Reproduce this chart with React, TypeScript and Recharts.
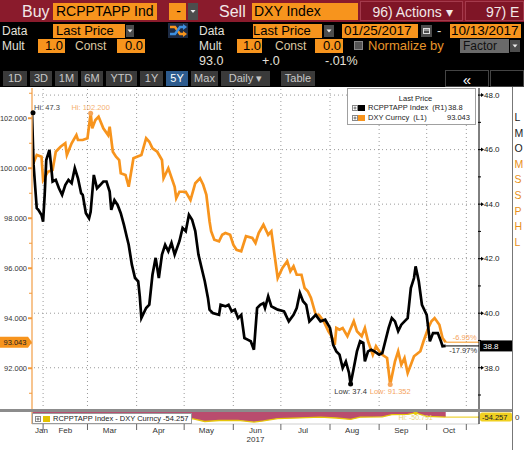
import React from "react";
import { LineChart, Line, XAxis, YAxis, ReferenceLine, ReferenceDot, AreaChart, Area } from "recharts";

const FONT = "'Liberation Sans', Arial, sans-serif";
const ORANGE = "#f7941d";
const MAROON = "#8a1b2c";

// x values are days of 2017 (Jan 1 = 1)
const rcpDays = [
  25, 26, 28, 29, 31, 32, 33, 34, 36, 37,
  38, 40, 42, 44, 46, 48, 50, 52, 54, 56,
  57, 59, 61, 62, 64, 66, 68, 70, 72, 74,
  75, 77, 79, 81, 83, 85, 86, 88, 90, 92,
  93, 94, 97, 99, 101, 103, 105, 107, 109, 111,
  113, 115, 118, 120, 122, 124, 126, 128, 130, 132,
  134, 136, 137, 139, 143, 144, 147, 149, 151, 153,
  155, 157, 159, 161, 163, 165, 167, 169, 171, 172,
  174, 176, 178, 180, 184, 187, 190, 192, 194, 196,
  198, 200, 204, 207, 210, 213, 215, 217, 219, 221,
  223, 225, 226, 228, 230, 232, 234, 235, 237, 239,
  241, 244, 246, 250, 252, 254, 256, 258, 260, 262,
  264, 266, 267, 269, 271, 274, 276, 278, 281, 283,
  284, 286,
];
const rcpVals = [
  47.35, 45.44, 43.85, 43.79, 43.6, 43.36, 44.34, 45.62, 45.99, 45.44,
  44.83, 44.89, 44.58, 44.34, 44.7, 44.89, 44.77, 45.32, 44.95, 44.4,
  44.34, 43.67, 43.48, 43.72, 45.07, 44.58, 44.7, 44.83, 44.83, 44.46,
  43.79, 44.15, 43.97, 43.67, 43.24, 42.75, 42.51, 41.78, 41.29, 41.17,
  40.62, 39.82, 40.19, 40.31, 41.41, 42.03, 41.29, 42.15, 42.51, 42.27,
  42.58, 42.15, 42.64, 43.13, 43.01, 43.61, 43.43, 43.01, 42.15, 41.66,
  41.17, 40.56, 40.13, 40.01, 39.94, 40.31, 40.25, 40.31, 40.07, 40.13,
  39.82, 39.94, 39.09, 39.03, 38.97, 38.66, 40.19, 40.31, 40.37, 40.19,
  40.62, 40.25, 40.19, 40.13, 40.07, 39.7, 39.94, 40.19, 40.74, 40.44,
  40.31, 39.7, 39.94, 39.7, 39.76, 39.46, 38.84, 38.6, 38.48, 37.99,
  38.23, 37.81, 37.4, 37.99, 38.6, 38.97, 38.91, 38.23, 38.6, 38.66,
  38.6, 38.48, 38.54, 39.46, 39.82, 39.7, 39.34, 39.58, 39.7, 39.82,
  40.92, 41.29, 41.72, 41.17, 40.31, 39.94, 38.97, 39.27, 39.27, 38.97,
  38.79, 38.8,
];

const dxyDays = [
  25, 28, 31, 32, 35, 38, 40, 43, 46, 47,
  50, 53, 54, 57, 60, 62, 63, 65, 67, 70,
  73, 74, 76, 78, 80, 81, 84, 86, 89, 94,
  97, 99, 101, 104, 107, 108, 111, 115, 116, 118,
  122, 125, 128, 131, 133, 135, 137, 138, 140, 143,
  145, 147, 150, 152, 154, 157, 160, 164, 166, 168,
  171, 174, 176, 178, 180, 183, 186, 188, 190, 192,
  195, 197, 199, 201, 204, 206, 209, 212, 214, 216,
  217, 219, 221, 224, 228, 230, 233, 235, 237, 240,
  242, 244, 246, 249, 251, 254, 256, 258, 260, 262,
  264, 266, 270, 272, 275, 277, 279, 282, 284, 286,
];
const dxyVals = [
  100.06, 100.53, 100.46, 99.53, 99.86, 99.93, 100.66, 100.86, 101.0, 100.53,
  101.0, 101.33, 101.13, 101.13, 101.2, 102.2, 101.6, 101.93, 102.06, 101.6,
  101.33, 101.66, 100.66, 100.46, 100.33, 99.8, 99.73, 99.26, 100.4, 100.53,
  101.2, 101.06, 100.8, 100.66, 100.33, 99.6, 100.0, 99.26, 98.8, 99.06,
  99.06, 98.73, 99.4, 99.6, 99.34, 98.94, 97.88, 97.48, 97.14, 97.08,
  97.34, 97.41, 97.34, 96.94, 96.74, 96.68, 97.28, 97.21, 97.01, 97.41,
  97.74, 97.34, 97.48, 96.54, 95.61, 96.01, 96.28, 95.88, 96.08, 95.74,
  95.74, 95.21, 95.08, 94.81, 94.14, 94.14, 93.88, 93.48, 93.28, 92.94,
  93.61, 93.54, 93.61, 93.28, 93.88, 93.48, 93.28, 93.61, 93.08, 92.54,
  92.88, 92.68, 92.54, 92.41, 91.35, 92.28, 92.68, 92.14, 92.41, 91.81,
  92.14, 92.48, 92.68, 93.08, 93.61, 93.88, 94.01, 93.74, 93.21, 93.04,
];

const spreadDays = [25, 32, 36, 46, 53, 61, 64, 74, 81, 88, 94, 103, 111, 120, 126, 134, 143, 155, 165, 171, 180, 194, 207, 217, 226, 232, 246, 252, 262, 267, 274, 286];
const spreadVals = [-52.7, -56.2, -53.9, -56.3, -56.0, -58.0, -56.7, -57.2, -56.1, -58.4, -59.6, -58.7, -57.7, -55.9, -55.5, -57.9, -57.1, -56.9, -58.4, -57.4, -55.5, -54.9, -54.3, -55.0, -56.2, -54.3, -54.0, -52.2, -52.0, -50.79, -53.7, -54.26];

const monthStarts = [32, 60, 91, 121, 152, 182, 213, 244, 274, 299];
const monthMids = [31, 46, 74, 105, 135, 166, 196, 227, 258, 288];
const monthNames = ["Jan", "Feb", "Mar", "Apr", "May", "Jun", "Jul", "Aug", "Sep", "Oct"];
const leftTicks = [91, 92, 93, 94, 95, 96, 97, 98, 99, 100, 101, 102, 103];
const rightTicks = [37, 38, 39, 40, 41, 42, 43, 44, 45, 46, 47, 48];
const gridValues = [38, 40, 42, 44, 46, 48];

const X_DOMAIN: [number, number] = [25, 307];

const rcpData = rcpDays.map((d, i) => ({ day: d, v: rcpVals[i] }));
const dxyData = dxyDays.map((d, i) => ({ day: d, v: dxyVals[i] }));
const spreadData = spreadDays.map((d, i) => ({ day: d, v: spreadVals[i] }));

const LeftTick = (props: any) => {
  const { x, y, payload } = props;
  const major = payload.value % 2 === 0;
  return (
    <g>
      <line x1={x - (major ? 4 : 3)} x2={x} y1={y} y2={y} stroke="#f39a3c" strokeWidth={major ? 2 : 1} />
      {major && (
        <text x={x - 5} y={y} dy={2.7} textAnchor="end" fontSize={7.5} fill="#333" fontFamily={FONT}>
          {payload.value.toFixed(3)}
        </text>
      )}
    </g>
  );
};

const RightTick = (props: any) => {
  const { x, y, payload } = props;
  const major = payload.value % 2 === 0;
  return (
    <g>
      <line x1={x - 1} x2={x + (major ? 3 : 2)} y1={y} y2={y} stroke="#000" strokeWidth={1} />
      {major && <polygon points={`${x + 2},${y - 2} ${x + 5},${y} ${x + 2},${y + 2}`} fill="#000" />}
      {major && (
        <text x={x + 5} y={y} dy={2.8} textAnchor="start" fontSize={8} fill="#222" fontFamily={FONT}>
          {payload.value.toFixed(1)}
        </text>
      )}
    </g>
  );
};

const MonthTick = (props: any) => {
  const { x, y, payload } = props;
  const i = monthMids.indexOf(payload.value);
  return (
    <g>
      <text x={x} y={y} dy={3} textAnchor="middle" fontSize={8} fill="#333" fontFamily={FONT}>
        {monthNames[i]}
      </text>
      {monthNames[i] === "Jun" && (
        <text x={x} y={y} dy={11.5} textAnchor="middle" fontSize={8} fill="#333" fontFamily={FONT}>
          2017
        </text>
      )}
    </g>
  );
};

const MarkTick = () => <g />;

const Box = (p: {
  x: number; y: number; w: number; h: number; bg?: string; color?: string; size?: number;
  align?: "left" | "right" | "center"; pad?: number; text?: React.ReactNode; border?: string;
}) => (
  <div
    style={{
      position: "absolute", left: p.x, top: p.y, width: p.w, height: p.h, background: p.bg || "transparent",
      color: p.color || "#000", fontSize: p.size || 13, lineHeight: `${p.h}px`, textAlign: p.align || "left",
      paddingLeft: p.align === "right" ? 0 : p.pad ?? 2, paddingRight: p.align === "right" ? p.pad ?? 2 : 0,
      whiteSpace: "nowrap", overflow: "hidden", boxSizing: "border-box", fontFamily: FONT,
      border: p.border || "none",
    }}
  >
    {p.text}
  </div>
);

const Drop = ({ x, y, w, h }: { x: number; y: number; w: number; h: number }) => (
  <div style={{ position: "absolute", left: x, top: y, width: w, height: h, background: "#4d4d4d" }}>
    <svg width={w} height={h} style={{ display: "block" }}>
      <polygon points={`${w / 2 - 2.5},${h / 2 - 1.5} ${w / 2 + 2.5},${h / 2 - 1.5} ${w / 2},${h / 2 + 1.5}`} fill="#eee" />
    </svg>
  </div>
);

const PlusIcon = ({ x, y }: { x: number; y: number }) => (
  <svg width={6} height={6} style={{ position: "absolute", left: x, top: y }}>
    <rect x={0.5} y={0.5} width={5} height={5} fill="#fff" stroke="#888" strokeWidth={1} />
    <line x1={1.5} x2={4.5} y1={3} y2={3} stroke="#666" />
    <line x1={3} x2={3} y1={1.5} y2={4.5} stroke="#666" />
  </svg>
);

const buttons: [string, number, number][] = [
  ["1D", 3, 27], ["3D", 30, 52], ["1M", 55, 78], ["6M", 81, 103], ["YTD", 106, 137],
  ["1Y", 140, 163], ["5Y", 166, 188], ["Max", 191, 218], ["Daily \u25be", 221, 270], ["Table", 281, 315],
];

const sideLetters: [string, string][] = [
  ["L", "#222"], ["M", "#222"], ["O", "#222"], ["M", "#e8901a"], ["S", "#e8901a"],
  ["S", "#e8901a"], ["P", "#e8901a"], ["H", "#e8901a"], ["L", "#e8901a"],
];

const LABEL = "#e4e0da";

export default function App() {
  return (
    <div style={{ position: "absolute", left: 0, top: 0, width: 524, height: 450, background: "#000", overflow: "hidden", fontFamily: FONT }}>
      {/* row 1 */}
      <div style={{ position: "absolute", left: 0, top: 0, width: 524, height: 22, background: MAROON }} />
      <Box x={20} y={1} w={34} h={21} text="Buy" color="#f2e8e8" size={16} />
      <Box x={53} y={3} w={104} h={17} bg={ORANGE} text="RCPPTAPP Ind" size={14} pad={3} />
      <Box x={169} y={3} w={17} h={17} bg={ORANGE} text="-" size={14} align="center" />
      <Drop x={188} y={3} w={10} h={17} />
      <Box x={217} y={1} w={36} h={21} text="Sell" color="#f2e8e8" size={16} />
      <Box x={252} y={3} w={106} h={17} bg={ORANGE} text="DXY Index" size={14} pad={2} />
      <Box x={360} y={1} w={103} h={20} bg="#7f1526" border="1px solid #a43a4c" text={"96) Actions \u25be"} color="#f2e8e8" size={14} align="center" />
      <Box x={465} y={1} w={59} h={20} bg="#7f1526" border="1px solid #a43a4c" text="97) E" color="#f2e8e8" size={14} pad={20} />

      {/* row 2 */}
      <Box x={0} y={24} w={40} h={15} text="Data" color={LABEL} size={12} />
      <Box x={53} y={24} w={72} h={14} bg={ORANGE} text="Last Price" size={13} pad={3} />
      <Drop x={126} y={25} w={8} h={12} />
      <svg width={20} height={15} style={{ position: "absolute", left: 168, top: 23 }}>
        <rect x={0} y={0} width={20} height={15} fill="#1d2b44" />
        <path d="M2 4 L7 4 L12 11 L16 11" stroke="#f7941d" strokeWidth={2.4} fill="none" />
        <path d="M2 11 L7 11 L12 4 L16 4" stroke="#3d8fe0" strokeWidth={2.4} fill="none" />
        <polygon points="15,8 19,11 15,14" fill="#f7941d" />
        <polygon points="15,1 19,4 15,7" fill="#3d8fe0" />
      </svg>
      <Box x={197} y={24} w={40} h={15} text="Data" color={LABEL} size={12} />
      <Box x={253} y={24} w={69} h={14} bg={ORANGE} text="Last Price" size={13} pad={0} />
      <Drop x={324} y={25} w={10} h={12} />
      <Box x={342} y={24} w={76} h={14} bg={ORANGE} text="01/25/2017" size={13.5} pad={2} />
      <svg width={11} height={12} style={{ position: "absolute", left: 421, top: 25 }}>
        <rect x={0} y={0} width={11} height={12} fill="#4d4d4d" />
        <rect x={2.5} y={3.5} width={6} height={5} fill="none" stroke="#ddd" strokeWidth={1} />
        <line x1={2.5} x2={8.5} y1={5} y2={5} stroke="#ddd" />
      </svg>
      <Box x={435} y={24} w={12} h={14} text="-" color={LABEL} size={13} />
      <Box x={450} y={24} w={71} h={14} bg={ORANGE} text="10/13/2017" size={13.5} pad={1} />

      {/* row 3 */}
      <Box x={0} y={39} w={36} h={14} text="Mult" color={LABEL} size={12} />
      <Box x={38} y={39} w={27} h={14} bg={ORANGE} text="1.0" size={13} align="right" pad={2} />
      <Box x={73} y={39} w={40} h={14} text="Const" color="#dcc8a0" size={12} />
      <Box x={117} y={39} w={28} h={14} bg={ORANGE} text="0.0" size={13} align="right" pad={2} />
      <Box x={197} y={39} w={36} h={14} text="Mult" color={LABEL} size={12} />
      <Box x={237} y={39} w={25} h={14} bg={ORANGE} text="1.0" size={13} align="right" pad={1} />
      <Box x={273} y={39} w={40} h={14} text="Const" color="#dcc8a0" size={12} />
      <Box x={315} y={39} w={28} h={14} bg={ORANGE} text="0.0" size={13} align="right" pad={2} />
      <div style={{ position: "absolute", left: 354, top: 41, width: 9, height: 9, background: "#555", border: "1px solid #888", boxSizing: "border-box" }} />
      <Box x={366} y={39} w={85} h={14} text="Normalize by" color="#e8952a" size={13} />
      <Box x={460} y={39} w={49} h={14} bg="#6a6a6a" text="Factor" color="#111" size={12} pad={3} />
      <Drop x={510} y={40} w={10} h={12} />

      {/* row 4 */}
      <Box x={197} y={54} w={40} h={15} text="93.0" color={LABEL} size={12.5} />
      <Box x={260} y={54} w={30} h={15} text="+.0" color={LABEL} size={12.5} />
      <Box x={323} y={54} w={40} h={15} text="-.01%" color={LABEL} size={12.5} />

      {/* row 5 */}
      {buttons.map(([t, a, b]) => (
        <Box key={t} x={a} y={71} w={b - a} h={15} bg={t === "5Y" ? "#2d5b8e" : "#3a3a3a"} color={t === "5Y" ? "#fff" : "#c8c8c8"} text={t} size={11} align="center" pad={0} />
      ))}
      <Box x={445} y={70} w={44} h={17} bg="#000" border="1px solid #444" text={"\u00ab"} color="#fff" size={15} align="center" pad={0} />
      <Box x={490} y={70} w={34} h={17} bg="#000" border="1px solid #444" text="" />

      {/* chart region */}
      <div style={{ position: "absolute", left: 0, top: 87, width: 524, height: 363, background: "#fff" }} />
      <div style={{ position: "absolute", left: 0, top: 88 }}>
        <LineChart width={524} height={322} margin={{ top: 0, right: 0, bottom: 0, left: 0 }}>
          <XAxis type="number" dataKey="day" domain={X_DOMAIN} hide height={0} allowDataOverflow />
          <YAxis
            yAxisId="left" orientation="left" width={32} type="number" domain={[90.33, 103.21]} allowDataOverflow
            ticks={leftTicks} interval={0} tick={<LeftTick />} tickLine={false} tickSize={0} tickMargin={0}
            axisLine={{ stroke: "#f5b06a", strokeWidth: 1.5 }}
          />
          <YAxis
            yAxisId="right" orientation="right" width={45} type="number" domain={[36.45, 48.26]} allowDataOverflow
            ticks={rightTicks} interval={0} tick={<RightTick />} tickLine={false} tickSize={0} tickMargin={0}
            axisLine={{ stroke: "#000" }}
          />
          {gridValues.map((v) => (
            <ReferenceLine key={`h${v}`} yAxisId="right" y={v} stroke="#9a9a9a" strokeDasharray="1 3" />
          ))}
          {monthStarts.map((d) => (
            <ReferenceLine key={`v${d}`} yAxisId="right" x={d} stroke="#9a9a9a" strokeDasharray="1 3" />
          ))}
          <ReferenceLine yAxisId="left" segment={[{ x: 286, y: 93.043 }, { x: 307, y: 93.043 }]} stroke={ORANGE} strokeWidth={1} />
          <ReferenceLine yAxisId="right" segment={[{ x: 286, y: 38.8 }, { x: 307, y: 38.8 }]} stroke="#000" strokeWidth={1} />
          <Line yAxisId="left" data={dxyData} dataKey="v" type="linear" stroke={ORANGE} strokeWidth={2.7} dot={false} isAnimationActive={false} />
          <Line yAxisId="right" data={rcpData} dataKey="v" type="linear" stroke="#000" strokeWidth={2.7} dot={false} isAnimationActive={false} />
          <ReferenceDot
            yAxisId="right" x={25} y={47.35} ifOverflow="visible"
            shape={(p: any) => (
              <g>
                <circle cx={p.cx + 1} cy={p.cy} r={2.5} fill="#000" />
                <text x={p.cx + 2} y={p.cy - 3} fontSize={7.5} fill="#444" fontFamily={FONT}>Hi: 47.3</text>
              </g>
            )}
          />
          <ReferenceDot
            yAxisId="left" x={62} y={102.2} ifOverflow="visible"
            shape={(p: any) => (
              <g>
                <circle cx={p.cx} cy={p.cy} r={2.5} fill="#f5a55a" />
                <text x={p.cx} y={p.cy - 3} textAnchor="middle" fontSize={7.5} fill="#f5b070" fontFamily={FONT}>Hi: 102.200</text>
              </g>
            )}
          />
          <ReferenceDot
            yAxisId="right" x={226} y={37.4} ifOverflow="visible"
            shape={(p: any) => (
              <g>
                <circle cx={p.cx} cy={p.cy} r={2.5} fill="#000" />
                <text x={p.cx} y={p.cy + 9.5} textAnchor="middle" fontSize={7.5} fill="#333" fontFamily={FONT}>Low: 37.4</text>
              </g>
            )}
          />
          <ReferenceDot
            yAxisId="left" x={251} y={91.35} ifOverflow="visible"
            shape={(p: any) => (
              <g>
                <circle cx={p.cx} cy={p.cy} r={2.5} fill="#f5a55a" />
                <text x={p.cx} y={p.cy + 9.5} textAnchor="middle" fontSize={7.5} fill="#f5a460" fontFamily={FONT}>Low: 91.352</text>
              </g>
            )}
          />
          <ReferenceDot
            yAxisId="left" x={298} y={93.043} ifOverflow="visible"
            shape={(p: any) => (
              <text x={p.cx} y={p.cy - 2.5} textAnchor="middle" fontSize={7.5} fill="#f5a460" fontFamily={FONT}>-6.95%</text>
            )}
          />
          <ReferenceDot
            yAxisId="right" x={297} y={38.8} ifOverflow="visible"
            shape={(p: any) => (
              <text x={p.cx} y={p.cy + 7.5} textAnchor="middle" fontSize={7.5} fill="#333" fontFamily={FONT}>-17.97%</text>
            )}
          />
          <ReferenceDot
            yAxisId="left" x={25} y={93.043} ifOverflow="visible"
            shape={(p: any) => (
              <g>
                <polygon
                  points={`${p.cx - 32},${p.cy - 5.5} ${p.cx - 4},${p.cy - 5.5} ${p.cx},${p.cy} ${p.cx - 4},${p.cy + 5.5} ${p.cx - 32},${p.cy + 5.5}`}
                  fill={ORANGE}
                />
                <text x={p.cx - 17} y={p.cy + 2.7} textAnchor="middle" fontSize={7.5} fill="#222" fontFamily={FONT}>93.043</text>
              </g>
            )}
          />
          <ReferenceDot
            yAxisId="right" x={307} y={38.8} ifOverflow="visible"
            shape={(p: any) => (
              <g>
                <rect x={p.cx + 1} y={p.cy - 5.5} width={33} height={11} fill="#000" />
                <text x={p.cx + 4} y={p.cy + 3} fontSize={8} fill="#fff" fontFamily={FONT}>38.8</text>
              </g>
            )}
          />
        </LineChart>
      </div>

      {/* legend */}
      <div style={{ position: "absolute", left: 347, top: 88, width: 129, height: 37, background: "#fff", border: "1px solid #a0a0a0", boxSizing: "border-box", fontSize: 7.5, color: "#222" }}>
        <div style={{ position: "absolute", left: 0, width: 129, top: 5, lineHeight: "10px", textAlign: "center", paddingLeft: 6, boxSizing: "border-box" }}>Last Price</div>
        <PlusIcon x={4} y={16} />
        <div style={{ position: "absolute", left: 10, top: 16, width: 7, height: 6, background: "#000" }} />
        <div style={{ position: "absolute", left: 20, top: 14, lineHeight: "10px", whiteSpace: "nowrap" }}>RCPPTAPP Index &nbsp;(R1)</div>
        <div style={{ position: "absolute", left: 100, top: 14, lineHeight: "10px" }}>38.8</div>
        <PlusIcon x={4} y={26} />
        <div style={{ position: "absolute", left: 10, top: 26, width: 7, height: 6, background: ORANGE }} />
        <div style={{ position: "absolute", left: 20, top: 24, lineHeight: "10px", whiteSpace: "nowrap" }}>DXY Curncy &nbsp;(L1)</div>
        <div style={{ position: "absolute", left: 99, top: 24, lineHeight: "10px" }}>93.043</div>
      </div>

      {/* spread panel */}
      <div style={{ position: "absolute", left: 0, top: 412 }}>
        <AreaChart width={524} height={38} margin={{ top: 0, right: 0, bottom: 0, left: 0 }}>
          <XAxis
            xAxisId="marks" type="number" dataKey="day" domain={X_DOMAIN} allowDataOverflow ticks={monthStarts} interval={0}
            tick={<MarkTick />} tickLine={{ stroke: "#666" }} tickSize={6} axisLine={{ stroke: "#cfcfcf" }} height={6}
          />
          <XAxis
            xAxisId="names" type="number" dataKey="day" domain={X_DOMAIN} allowDataOverflow ticks={monthMids} interval={0}
            tick={<MonthTick />} tickLine={false} tickSize={0} tickMargin={0} axisLine={false} height={20}
          />
          <YAxis yAxisId="l" orientation="left" width={32} domain={[0, 1]} tick={false} axisLine={{ stroke: "#f5b06a", strokeWidth: 1.5 }} />
          <YAxis yAxisId="r" orientation="right" width={45} domain={[0, 1]} tick={false} axisLine={{ stroke: "#000" }} />
          <YAxis yAxisId="s" hide domain={[-60, -50]} allowDataOverflow />
          <ReferenceLine xAxisId="marks" yAxisId="s" segment={[{ x: 286, y: -54.257 }, { x: 307, y: -54.257 }]} stroke="#e8c90a" strokeWidth={1} />
          <Area
            xAxisId="marks" yAxisId="s" data={spreadData} dataKey="v" type="linear" baseValue={-50}
            stroke="#e6c50a" strokeWidth={1.3} fill="#b94c6e" fillOpacity={1} isAnimationActive={false}
          />
          <ReferenceDot
            xAxisId="marks" yAxisId="s" x={267} y={-50.79} ifOverflow="visible"
            shape={(p: any) => (
              <g>
                <circle cx={p.cx} cy={p.cy} r={2} fill="#e8c90a" />
                <text x={p.cx} y={p.cy + 7} textAnchor="middle" fontSize={7} fill="#e6d27a" fontFamily={FONT}>Hi: -50.791</text>
              </g>
            )}
          />
          <ReferenceDot
            xAxisId="marks" yAxisId="s" x={307} y={-54.257} ifOverflow="visible"
            shape={(p: any) => (
              <g>
                <rect x={p.cx + 1} y={p.cy - 4.5} width={32} height={9} rx={2} fill="#f0d020" />
                <text x={p.cx + 3} y={p.cy + 2.8} fontSize={7.5} fill="#222" fontFamily={FONT}>-54.257</text>
              </g>
            )}
          />
        </AreaChart>
      </div>
      <div style={{ position: "absolute", left: 0, top: 409, width: 513, height: 3, background: "#8c8c8c" }} />
      <div style={{ position: "absolute", left: 32, top: 413, width: 160, height: 11, background: "#fff", border: "1px solid #9a9a9a", boxSizing: "border-box", fontSize: 7.5, color: "#222" }}>
        <PlusIcon x={2} y={2} />
        <div style={{ position: "absolute", left: 10, top: 1.5, width: 7, height: 6, background: "#e4c200" }} />
        <div style={{ position: "absolute", left: 20, top: 0, lineHeight: "10px", whiteSpace: "nowrap" }}>RCPPTAPP Index - DXY Curncy -54.257</div>
      </div>

      {/* side panel */}
      <div style={{ position: "absolute", left: 512, top: 87, width: 1, height: 363, background: "#777" }} />
      {sideLetters.map(([l, c], i) => (
        <div key={i} style={{ position: "absolute", left: 514.5, top: 111 + i * 15.6, fontSize: 10.5, lineHeight: "13px", color: c, fontFamily: FONT }}>{l}</div>
      ))}
      <div style={{ position: "absolute", left: 515, top: 413, fontSize: 8, lineHeight: "10px", color: "#333", fontFamily: FONT }}>0</div>
    </div>
  );
}
